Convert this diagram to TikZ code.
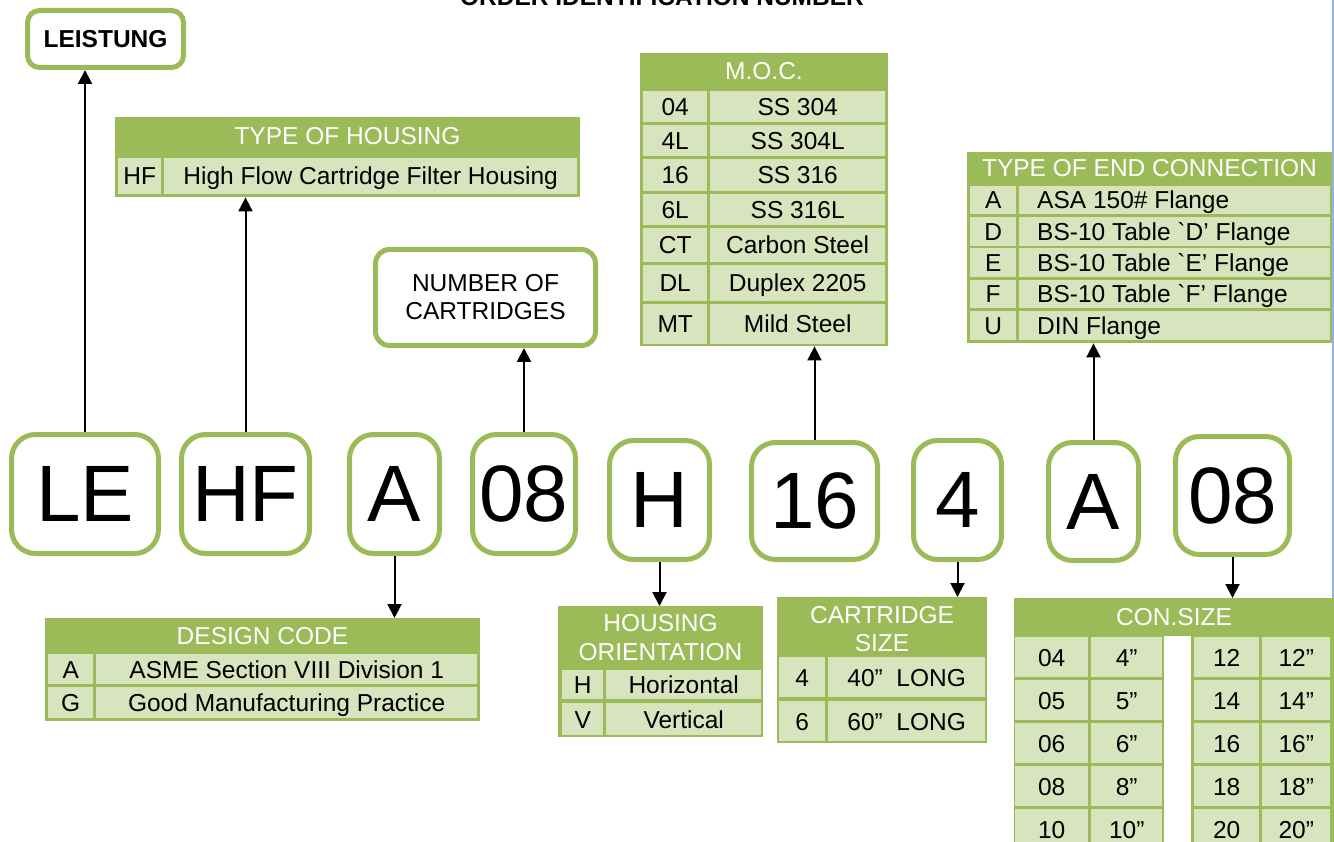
\documentclass[tikz,border=0pt]{standalone}
\usepackage{fontspec}
\setmainfont{Liberation Sans}
\usetikzlibrary{arrows.meta,positioning,calc}
\definecolor{oidgreen}{RGB}{155,187,89}
\definecolor{oidpale}{RGB}{215,228,189}
\definecolor{oidblue}{RGB}{149,179,215}

\begin{document}
\begin{tikzpicture}[x=1pt,y=-1pt,
  codebox/.style={draw=oidgreen,line width=5pt,rounded corners=24pt,fill=white,inner sep=0pt,font=\fontsize{80}{80}\selectfont},
  tabframe/.style={fill=oidgreen,inner sep=0pt,anchor=north west},
  hdr/.style={text=white,inner sep=0pt,align=center,font=\fontsize{24.5}{28.5}\selectfont},
  cell/.style={fill=oidpale,inner sep=0pt,anchor=north west,text height=17.6pt,text depth=0pt,font=\fontsize{24.5}{28}\selectfont},
  arr/.style={line width=2pt,-{Triangle[width=14pt,length=14pt]}}]
  \useasboundingbox (0,0) rectangle (1334,842);
  \clip (0,0) rectangle (1334,842);
  % page edge and title (cut off at the top)
  \draw[oidblue,line width=1.2pt] (1333,0) -- (1333,598);
  \node[anchor=base,font=\fontsize{24.5}{28}\selectfont\bfseries] (title) at (662,6) {ORDER IDENTIFICATION NUMBER};
  % Code boxes
  \foreach \n/\x/\y/\w/\h/\t in {le/85/494/147/119/LE, hf/245.5/494/128/119/HF, dsA/394.5/494/90/119/A,
      num/524/494/103/119/08, ori/659.5/500/100/119/H, mat/814.5/501/126/117/16,
      len/957.5/500/88/119/4, conA/1093.5/501.5/90/118/A, size/1232.5/495.5/114/118/08}{
    \node[codebox,minimum width=\w,minimum height=\h] (\n) at (\x,\y) {\t};
  }
  % Boxes above
  \node[draw=oidgreen,line width=5pt,rounded corners=12pt,minimum width=156,minimum height=57,
    font=\fontsize{24.5}{28}\selectfont\bfseries] (leist) at (105.5,39) {LEISTUNG};
  \node[draw=oidgreen,line width=5pt,rounded corners=14pt,minimum width=220,minimum height=96,align=center,
    font=\fontsize{24.5}{28}\selectfont] (ncart) at (485.5,297.5) {NUMBER OF\\CARTRIDGES};
  % Type of housing
  \node[tabframe,minimum width=465,minimum height=80] (hsg) at (115,117) {};
  \node[hdr] (hsg-hdr) at (347.5,136) {TYPE OF HOUSING};
  \node[cell,minimum width=43,minimum height=36] (hsg-c) at (118,158) {HF};
  \node[cell,minimum width=413,minimum height=36] (hsg-t) at (164,158) {High Flow Cartridge Filter Housing};
  % M.O.C.
  \node[tabframe,minimum width=248,minimum height=293] (moc) at (640,53) {};
  \node[hdr] (moc-hdr) at (764,71) {M.O.C.};
  \foreach \ya/\yb/\c/\t in {91/122/04/SS 304, 125/156/4L/SS 304L, 159/191/16/SS 316, 194/225/6L/SS 316L,
      228/262/CT/Carbon Steel, 265/301/DL/Duplex 2205, 304/344/MT/Mild Steel}{
    \node[cell,minimum width=64,minimum height=\yb-\ya] (moc-c\c) at (643,\ya) {\c};
    \node[cell,minimum width=175,minimum height=\yb-\ya] (moc-t\c) at (710,\ya) {\t};
  }
  % Type of end connection
  \node[tabframe,minimum width=365,minimum height=191] (endc) at (967,152) {};
  \node[hdr] (endc-hdr) at (1149.5,168) {TYPE OF END CONNECTION};
  \foreach \ya/\yb/\c/\t in {186/214/A/ASA 150\# Flange, 217/246/D/BS-10 Table \textasciigrave D’ Flange,
      248/277/E/BS-10 Table \textasciigrave E’ Flange, 280/308/F/BS-10 Table \textasciigrave F’ Flange, 311/340/U/DIN Flange}{
    \node[cell,minimum width=46,minimum height=\yb-\ya] (endc-c\c) at (970,\ya) {\c};
    \node[cell,minimum height=\yb-\ya,inner xsep=18pt] (endc-t\c) at (1019,\ya) {\makebox[275pt][l]{\t}};
  }
  % Design code
  \node[tabframe,minimum width=435,minimum height=103] (dsgn) at (45,618) {};
  \node[hdr] (dsgn-hdr) at (262.5,636) {DESIGN CODE};
  \foreach \ya/\yb/\c/\t in {654/684/A/ASME Section VIII Division 1, 687/718/G/Good Manufacturing Practice}{
    \node[cell,minimum width=45,minimum height=\yb-\ya] (dsgn-c\c) at (48,\ya) {\c};
    \node[cell,minimum width=381,minimum height=\yb-\ya] (dsgn-t\c) at (96,\ya) {\t};
  }
  % Housing orientation
  \node[tabframe,minimum width=205,minimum height=131] (orient) at (558,606) {};
  \node[hdr] (orient-hdr) at (660.5,637.5) {HOUSING\\ORIENTATION};
  \foreach \ya/\yb/\c/\t in {670/699/H/Horizontal, 703/735/V/Vertical}{
    \node[cell,minimum width=41,minimum height=\yb-\ya] (orient-c\c) at (562,\ya) {\c};
    \node[cell,minimum width=155,minimum height=\yb-\ya] (orient-t\c) at (606,\ya) {\t};
  }
  % Cartridge size
  \node[tabframe,minimum width=210,minimum height=146] (csize) at (777,597) {};
  \node[hdr] (csize-hdr) at (882,629) {CARTRIDGE\\SIZE};
  \foreach \ya/\yb/\c/\t in {657/697/4/40”~~LONG, 701/741/6/60”~~LONG}{
    \node[cell,minimum width=46,minimum height=\yb-\ya] (csize-c\c) at (779,\ya) {\c};
    \node[cell,minimum width=157,minimum height=\yb-\ya] (csize-t\c) at (828,\ya) {\t};
  }
  % Con. size
  \node[tabframe,minimum width=320,minimum height=244] (consz) at (1014,598) {};
  \node[hdr] (consz-hdr) at (1174,617) {CON.SIZE};
  \node[fill=white,inner sep=0pt,anchor=north west,minimum width=27,minimum height=206] (consz-gap) at (1164,636) {};
  \foreach \i/\a/\b/\c/\d in {0/04/4”/12/12”, 1/05/5”/14/14”, 2/06/6”/16/16”, 3/08/8”/18/18”, 4/10/10”/20/20”}{
    \node[cell,minimum width=73,minimum height=40] (consz-a\i) at (1015,637+43*\i) {\a};
    \node[cell,minimum width=71,minimum height=40] (consz-b\i) at (1091,637+43*\i) {\b};
    \node[cell,minimum width=65,minimum height=40] (consz-c\i) at (1194,637+43*\i) {\c};
    \node[cell,minimum width=68,minimum height=40] (consz-d\i) at (1262,637+43*\i) {\d};
  }
  % Connectors
  \draw[arr] (le.north) -- (le.north |- leist.south);
  \draw[arr] (hf.north) -- (hf.north |- hsg.south);
  \draw[arr] (num.north) -- (num.north |- ncart.south);
  \draw[arr] (mat.north) -- (mat.north |- moc.south);
  \draw[arr] (conA.north) -- (conA.north |- endc.south);
  \draw[arr] (dsA.south) -- (dsA.south |- dsgn.north);
  \draw[arr] (ori.south) -- (ori.south |- orient.north);
  \draw[arr] (len.south) -- (len.south |- csize.north);
  \draw[arr] (size.south) -- (size.south |- consz.north);
\end{tikzpicture}
\end{document}
